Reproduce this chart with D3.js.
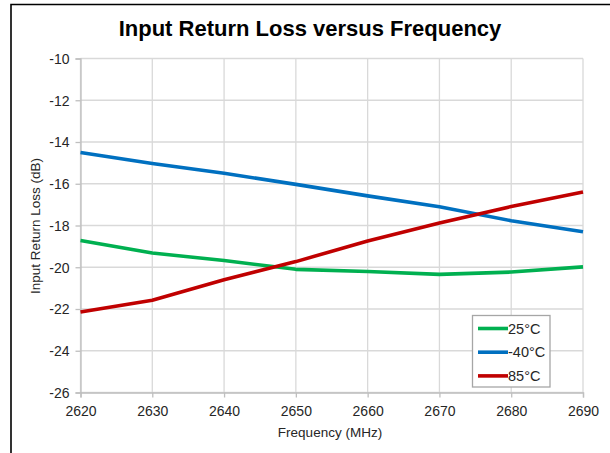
<!DOCTYPE html>
<html>
<head>
<meta charset="utf-8">
<script src="https://cdn.jsdelivr.net/npm/d3@7"></script>
<style>
  html, body { margin: 0; padding: 0; background: #fff; }
  svg { display: block; font-family: "Liberation Sans", Arial, sans-serif; }
</style>
</head>
<body>
<svg id="chart" width="610" height="453"></svg>
<script>
// Frequency points (MHz)
const frequencies = [2620, 2630, 2640, 2650, 2660, 2670, 2680, 2690];

// Input return loss (dB) per temperature
const loss25 = [-18.72, -19.32, -19.68, -20.1, -20.2, -20.34, -20.23, -19.98];
const lossMinus40 = [-14.5, -15.03, -15.5, -16.03, -16.58, -17.1, -17.77, -18.3];
const loss85 = [-22.14, -21.58, -20.6, -19.73, -18.74, -17.88, -17.09, -16.4];

const seriesNames = ["25°C", "-40°C", "85°C"];
const seriesColors = ["#00b050", "#0070c0", "#c00000"];

const xTicks = [2620, 2630, 2640, 2650, 2660, 2670, 2680, 2690];
const yTicks = [-26, -24, -22, -20, -18, -16, -14, -12, -10];

const series = [loss25, lossMinus40, loss85].map((vals, i) => ({
  name: seriesNames[i],
  color: seriesColors[i],
  points: frequencies.map((f, j) => ({ f, v: vals[j] }))
}));

const svg = d3.select("#chart");
const plot = { left: 80.5, right: 583, top: 58.5, bottom: 392.5 };

const x = d3.scaleLinear().domain([2620, 2690]).range([plot.left, plot.right]);
const y = d3.scaleLinear().domain([-26, -10]).range([plot.bottom, plot.top]);

// Outer frame
svg.append("path")
  .attr("d", "M11,460 L11,4.5 L620,4.5")
  .attr("fill", "none")
  .attr("stroke", "#000")
  .attr("stroke-width", 1.6);

// Title
svg.append("text")
  .attr("x", 310).attr("y", 36)
  .attr("text-anchor", "middle")
  .attr("font-size", 22).attr("font-weight", "bold")
  .attr("fill", "#000")
  .text("Input Return Loss versus Frequency");

// Gridlines
const grid = svg.append("g").attr("stroke", "#d9d9d9").attr("stroke-width", 1.3);
grid.selectAll(".hg").data(yTicks).join("line")
  .attr("x1", plot.left).attr("x2", plot.right)
  .attr("y1", d => y(d)).attr("y2", d => y(d));
grid.selectAll(".vg").data(xTicks).join("line")
  .attr("y1", plot.top).attr("y2", plot.bottom)
  .attr("x1", d => x(d)).attr("x2", d => x(d));

// Axes (plain hyphen for negative numbers)
const yAxis = d3.axisLeft(y).tickValues(yTicks).tickSize(5).tickPadding(6).tickFormat(d => String(d));
const xAxis = d3.axisBottom(x).tickValues(xTicks).tickSize(5).tickPadding(4).tickFormat(d => String(d));

const gy = svg.append("g").attr("transform", `translate(${plot.left},0)`).call(yAxis);
const gx = svg.append("g").attr("transform", `translate(0,${plot.bottom})`).call(xAxis);
[gx, gy].forEach(g => {
  g.select(".domain").attr("stroke", "#bfbfbf").attr("stroke-width", 1.3);
  g.selectAll(".tick line").attr("stroke", "#bfbfbf").attr("stroke-width", 1.3);
  g.selectAll(".tick text")
    .attr("font-size", 14)
    .attr("fill", "#262626")
    .attr("font-family", "Liberation Sans, Arial, sans-serif");
});
gy.selectAll(".tick text").attr("dy", "0.35em");
gx.selectAll(".tick text").attr("dy", "1em");

// Axis titles
svg.append("text")
  .attr("x", 330).attr("y", 437)
  .attr("text-anchor", "middle")
  .attr("font-size", 13.5).attr("fill", "#262626")
  .text("Frequency (MHz)");
svg.append("text")
  .attr("transform", "translate(40,226) rotate(-90)")
  .attr("text-anchor", "middle")
  .attr("font-size", 13.5).attr("fill", "#262626")
  .text("Input Return Loss (dB)");

// Data lines
const line = d3.line().x(d => x(d.f)).y(d => y(d.v));
svg.append("g").selectAll("path").data(series).join("path")
  .attr("d", d => line(d.points))
  .attr("fill", "none")
  .attr("stroke", d => d.color)
  .attr("stroke-width", 3.6)
  .attr("stroke-linejoin", "round")
  .attr("stroke-linecap", "butt");

// Legend
const legend = svg.append("g").attr("transform", "translate(472.5,315.5)");
legend.append("rect")
  .attr("width", 77.5).attr("height", 71.5)
  .attr("fill", "#fff")
  .attr("stroke", "#a6a6a6").attr("stroke-width", 1.3);
const rows = legend.selectAll("g.row").data(series).join("g")
  .attr("transform", (d, i) => `translate(0,${13 + i * 23.7})`);
rows.append("line")
  .attr("x1", 5.5).attr("x2", 35.5)
  .attr("stroke", d => d.color).attr("stroke-width", 3.6);
rows.append("text")
  .attr("x", 35.5).attr("dy", "0.36em")
  .attr("font-size", 14.5).attr("fill", "#262626")
  .text(d => d.name);
</script>
</body>
</html>
